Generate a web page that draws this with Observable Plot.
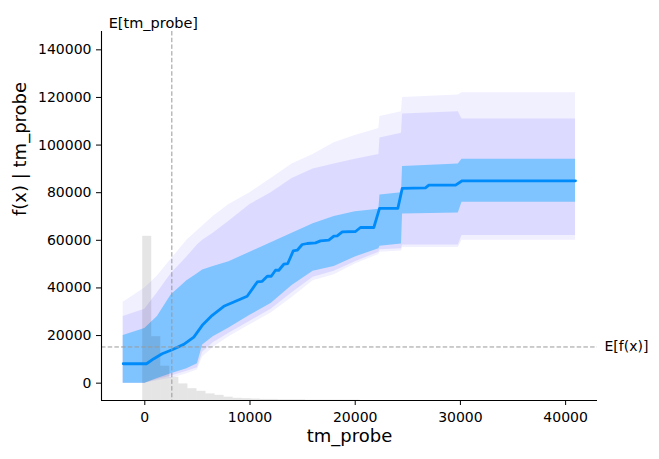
<!DOCTYPE html>
<html>
<head>
<meta charset="utf-8">
<script src="https://cdn.jsdelivr.net/npm/d3@7"></script>
<script src="https://cdn.jsdelivr.net/npm/@observablehq/plot@0.6"></script>
<style>
  html, body { margin: 0; padding: 0; background: white; }
</style>
</head>
<body>
<div id="chart"></div>
<script>
// ---- data ----
const xTicks = [0, 10000, 20000, 30000, 40000];
const yTicks = [0, 20000, 40000, 60000, 80000, 100000, 120000, 140000];
const xDomain = [-4116, 43030];
const yDomain = [-7280, 147700];

const meanX = 2570;    // E[tm_probe]
const meanY = 15200;   // E[f(x)]

// mean partial dependence line
const lineX = [-2050, 160, 860, 1650, 2600, 3700, 4660, 5460, 6410, 7510, 8460, 9730, 10690, 11160, 11640, 12020, 12420, 12740, 13210, 13590, 14110, 14490, 14960, 15440, 16230, 16700, 17490, 17970, 18290, 18770, 20030, 20500, 21770, 22310, 24050, 24470, 26680, 27000, 29540, 30170, 40940];
const lineY = [8160, 8160, 10270, 12370, 14050, 16290, 19360, 24280, 28490, 32280, 34090, 36480, 42500, 42800, 44900, 44900, 47420, 47420, 49950, 50240, 55540, 55840, 58240, 58660, 58910, 59750, 60050, 61730, 61860, 63540, 63710, 65390, 65390, 73390, 73390, 81800, 82050, 83190, 83190, 85000, 85000];

// ICE spread bands
const bandX  = [-2050, 0, 1200, 2500, 4000, 5000, 5500, 6500, 8000, 10000, 12000, 14000, 16000, 18000, 20000, 22250, 22350, 24400, 24500, 29800, 30150, 40940];
const coreLo = [0, 0, 2000, 4000, 6100, 8200, 16000, 19500, 23200, 28500, 33500, 41000, 47000, 49000, 53000, 56500, 57500, 58500, 71000, 71500, 76000, 76000];
const coreHi = [20000, 23000, 28000, 37000, 43000, 46000, 47500, 49000, 51000, 55000, 59000, 63000, 67000, 70000, 72000, 73000, 79000, 80000, 91000, 92000, 94000, 94000];
const midLo  = [0, 0, 1500, 3000, 5000, 6500, 13000, 17000, 21000, 26000, 31000, 38000, 44500, 47000, 51000, 55000, 56000, 56500, 58000, 58000, 62000, 62000];
const midHi  = [28000, 31000, 38000, 46000, 53000, 58000, 60000, 63000, 68000, 75000, 80000, 86000, 90000, 92000, 94000, 96000, 103000, 105000, 113000, 114000, 111000, 111000];
const outLo  = [0, 0, 1000, 2000, 4000, 5500, 11000, 15000, 19500, 24500, 29500, 36000, 43000, 45500, 50000, 54000, 55000, 55500, 57000, 57000, 60000, 60000];
const outHi  = [34000, 40000, 45000, 52000, 60000, 64000, 66000, 70000, 75000, 80000, 86000, 92000, 96000, 101000, 104000, 107000, 112000, 114000, 120000, 121000, 122000, 122000];

// histogram of tm_probe (counts per 1000 samples)
const histEdges = [-200, 660, 1520, 2380, 3240, 4100, 4960, 5820, 6680, 7540, 8400, 9260, 10120, 10980, 11840, 12700, 13560, 14420, 15280, 16140, 17000, 17860, 18720, 19580, 20440];
const histCounts = [445, 173, 93, 63, 45, 32, 25, 18, 14, 9, 6, 5, 4, 3, 3, 2, 2, 2, 1, 1, 1, 1, 1, 1];
const histTotal = 1000;

// ---- build tables ----
const line = lineX.map((x, i) => ({x, y: lineY[i]}));
const bands = bandX.map((x, i) => ({x, cLo: coreLo[i], cHi: coreHi[i], mLo: midLo[i], mHi: midHi[i], oLo: outLo[i], oHi: outHi[i]}));
const hist = histCounts.map((c, i) => ({
  x1: histEdges[i],
  x2: histEdges[i + 1],
  y1: yDomain[0],
  y2: yDomain[0] + c / histTotal * (yDomain[1] - yDomain[0])
}));

const fmt = d3.format("d");

const chart = Plot.plot({
  width: 659,
  height: 459,
  marginLeft: 101,
  marginRight: 62,
  marginTop: 31,
  marginBottom: 59,
  style: {fontFamily: "DejaVu Sans", fontSize: "14px", background: "white", color: "black", overflow: "visible"},
  x: {domain: xDomain},
  y: {domain: yDomain},
  marks: [
    Plot.areaY(bands, {x: "x", y1: "oLo", y2: "oHi", fill: "#f1f0ff"}),
    Plot.areaY(bands, {x: "x", y1: "mLo", y2: "mHi", fill: "#d9d6ff", fillOpacity: 0.85}),
    Plot.areaY(bands, {x: "x", y1: "cLo", y2: "cHi", fill: "#80c4ff"}),
    Plot.rect(hist, {x1: "x1", x2: "x2", y1: "y1", y2: "y2", fill: "black", fillOpacity: 0.1}),
    Plot.line(line, {x: "x", y: "y", stroke: "#008bfa", strokeWidth: 2.8}),
    Plot.ruleX([meanX], {stroke: "#999", strokeWidth: 1, strokeDasharray: "4.5,2.2"}),
    Plot.ruleY([meanY], {stroke: "#999", strokeWidth: 1, strokeDasharray: "4.5,2.2"}),
    Plot.ruleX([xDomain[0]], {stroke: "black", strokeWidth: 1.1}),
    Plot.ruleY([yDomain[0]], {stroke: "black", strokeWidth: 1.1}),
    Plot.axisX({ticks: xTicks, tickFormat: fmt, tickSize: 5, tickPadding: 7, label: null, stroke: "black"}),
    Plot.axisY({ticks: yTicks, tickFormat: fmt, tickSize: 5, tickPadding: 5, label: null, stroke: "black"}),
    Plot.text(["tm_probe"], {frameAnchor: "bottom", dy: 41, fontSize: 18, fill: "black"}),
    Plot.text(["f(x) | tm_probe"], {frameAnchor: "left", dx: -81, rotate: -90, fontSize: 18, fill: "black"}),
    Plot.text([meanY], {y: d => d, frameAnchor: "right", dx: 7, textAnchor: "start", text: () => "E[f(x)]", fontSize: 14, fill: "black"}),
    Plot.text([meanX], {x: d => d, frameAnchor: "top", dy: -14, dx: -18.5, text: () => "E[tm_probe]", fontSize: 14.5, fill: "black"})
  ]
});

document.getElementById("chart").appendChild(chart);
</script>
</body>
</html>
